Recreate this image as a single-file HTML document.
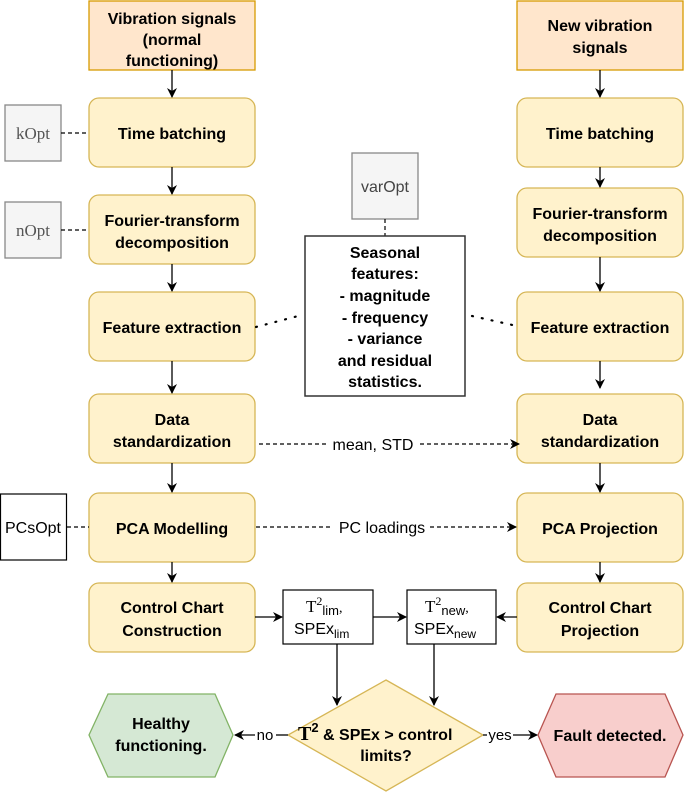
<!DOCTYPE html>
<html><head><meta charset="utf-8"><style>
html,body{margin:0;padding:0;background:#fff}
svg{display:block}
text{font-family:"Liberation Sans",Arial,sans-serif;fill:#000}
.b{font-weight:bold;font-size:16px}
.y{fill:#fff2cc;stroke:#d6b656;stroke-width:1.3}
.o{fill:#ffe6cc;stroke:#d79b00;stroke-width:1.3}
.g{fill:#f5f5f5;stroke:#888;stroke-width:1.3}
.w{fill:#fff;stroke:#333;stroke-width:1.5}
.l{stroke:#000;stroke-width:1.3;fill:none}
.d{stroke:#000;stroke-width:1.2;fill:none;stroke-dasharray:4 3}
.p{stroke:#000;stroke-width:2.2;fill:none;stroke-dasharray:1 9;stroke-linecap:round}
.s{font-family:"Liberation Serif",serif;font-size:17px;fill:#555}
</style></head><body>
<svg width="685" height="792" viewBox="0 0 685 792">
<defs><marker id="a" markerWidth="10" markerHeight="10" refX="9" refY="5" orient="auto" markerUnits="userSpaceOnUse"><path d="M0,0 L10,5 L0,10 L3,5 z" fill="#000"/></marker></defs>

<rect class="o" x="89" y="1" width="166" height="69"/>
<text class="b" text-anchor="middle" x="172" y="24">Vibration signals</text>
<text class="b" text-anchor="middle" x="172" y="45">(normal</text>
<text class="b" text-anchor="middle" x="172" y="66">functioning)</text>

<rect class="y" x="89" y="98" width="166" height="69" rx="10"/>
<text class="b" text-anchor="middle" x="172" y="139">Time batching</text>
<rect class="y" x="89" y="195" width="166" height="69" rx="10"/>
<text class="b" text-anchor="middle" x="172" y="226">Fourier-transform</text>
<text class="b" text-anchor="middle" x="172" y="248">decomposition</text>
<rect class="y" x="89" y="292" width="166" height="69" rx="10"/>
<text class="b" text-anchor="middle" x="172" y="333">Feature extraction</text>
<rect class="y" x="89" y="394" width="166" height="69" rx="10"/>
<text class="b" text-anchor="middle" x="172" y="425">Data</text>
<text class="b" text-anchor="middle" x="172" y="447">standardization</text>
<rect class="y" x="89" y="493" width="166" height="69" rx="10"/>
<text class="b" text-anchor="middle" x="172" y="534">PCA Modelling</text>
<rect class="y" x="89" y="583" width="166" height="69" rx="10"/>
<text class="b" text-anchor="middle" x="172" y="613">Control Chart</text>
<text class="b" text-anchor="middle" x="172" y="636">Construction</text>

<line class="l" x1="172" y1="70" x2="172" y2="97" marker-end="url(#a)"/>
<line class="l" x1="172" y1="167" x2="172" y2="194" marker-end="url(#a)"/>
<line class="l" x1="172" y1="264" x2="172" y2="291" marker-end="url(#a)"/>
<line class="l" x1="172" y1="361" x2="172" y2="393" marker-end="url(#a)"/>
<line class="l" x1="172" y1="463" x2="172" y2="492" marker-end="url(#a)"/>
<line class="l" x1="172" y1="562" x2="172" y2="582" marker-end="url(#a)"/>

<rect class="g" x="5" y="105" width="56" height="56"/>
<text class="s" text-anchor="middle" x="33" y="139">kOpt</text>
<line class="d" x1="61" y1="133" x2="89" y2="133"/>
<rect class="g" x="5" y="202" width="56" height="56"/>
<text class="s" text-anchor="middle" x="33" y="236">nOpt</text>
<line class="d" x1="61" y1="230" x2="89" y2="230"/>
<rect class="g" x="352" y="153" width="66" height="66"/>
<text text-anchor="middle" x="385" y="192" style="font-size:16px;fill:#444">varOpt</text>
<line class="d" x1="385" y1="219" x2="385" y2="236"/>
<rect x="0.5" y="494" width="66" height="66" fill="#fff" stroke="#000" stroke-width="1.2"/>
<text text-anchor="middle" x="33" y="533" style="font-size:16px">PCsOpt</text>
<line class="d" x1="67" y1="527" x2="89" y2="527"/>

<rect class="w" x="305" y="236" width="160" height="160"/>
<text class="b" text-anchor="middle" x="385" y="258">Seasonal</text>
<text class="b" text-anchor="middle" x="385" y="279">features:</text>
<text class="b" text-anchor="middle" x="385" y="301">- magnitude</text>
<text class="b" text-anchor="middle" x="385" y="323">- frequency</text>
<text class="b" text-anchor="middle" x="385" y="344">- variance</text>
<text class="b" text-anchor="middle" x="385" y="366">and residual</text>
<text class="b" text-anchor="middle" x="385" y="387">statistics.</text>
<line class="p" x1="256" y1="327" x2="302" y2="315"/>
<line class="p" x1="472" y1="316" x2="517" y2="326"/>

<rect class="o" x="517" y="1" width="166" height="69"/>
<text class="b" text-anchor="middle" x="600" y="31">New vibration</text>
<text class="b" text-anchor="middle" x="600" y="53">signals</text>
<rect class="y" x="517" y="98" width="166" height="69" rx="10"/>
<text class="b" text-anchor="middle" x="600" y="139">Time batching</text>
<rect class="y" x="517" y="188" width="166" height="69" rx="10"/>
<text class="b" text-anchor="middle" x="600" y="219">Fourier-transform</text>
<text class="b" text-anchor="middle" x="600" y="241">decomposition</text>
<rect class="y" x="517" y="292" width="166" height="69" rx="10"/>
<text class="b" text-anchor="middle" x="600" y="333">Feature extraction</text>
<rect class="y" x="517" y="394" width="166" height="69" rx="10"/>
<text class="b" text-anchor="middle" x="600" y="425">Data</text>
<text class="b" text-anchor="middle" x="600" y="447">standardization</text>
<rect class="y" x="517" y="493" width="166" height="69" rx="10"/>
<text class="b" text-anchor="middle" x="600" y="534">PCA Projection</text>
<rect class="y" x="517" y="583" width="166" height="69" rx="10"/>
<text class="b" text-anchor="middle" x="600" y="613">Control Chart</text>
<text class="b" text-anchor="middle" x="600" y="636">Projection</text>

<line class="l" x1="600" y1="70" x2="600" y2="97" marker-end="url(#a)"/>
<line class="l" x1="600" y1="167" x2="600" y2="187" marker-end="url(#a)"/>
<line class="l" x1="600" y1="257" x2="600" y2="291" marker-end="url(#a)"/>
<line class="l" x1="600" y1="361" x2="600" y2="388" marker-end="url(#a)"/>
<line class="l" x1="600" y1="463" x2="600" y2="492" marker-end="url(#a)"/>
<line class="l" x1="600" y1="562" x2="600" y2="582" marker-end="url(#a)"/>

<line class="d" x1="259" y1="444" x2="328" y2="444"/>
<text text-anchor="middle" x="373" y="450" style="font-size:16px">mean, STD</text>
<line class="d" x1="420" y1="444" x2="519" y2="444" marker-end="url(#a)"/>
<line class="d" x1="256" y1="527" x2="332" y2="527"/>
<text text-anchor="middle" x="382" y="533" style="font-size:16px">PC loadings</text>
<line class="d" x1="430" y1="527" x2="516" y2="527" marker-end="url(#a)"/>

<rect x="283" y="590" width="90" height="54" fill="#fff" stroke="#000" stroke-width="1.2"/>
<text x="306" y="612" style="font-family:'Liberation Serif',serif;font-size:17px">T<tspan dy="-7" font-size="12">2</tspan><tspan dy="10" font-family="Liberation Sans" font-size="13">lim</tspan><tspan dy="-3" font-size="14">,</tspan></text>
<text x="294" y="634" style="font-size:16px">SPEx<tspan dy="4" font-size="12">lim</tspan></text>
<rect x="407" y="590" width="89" height="54" fill="#fff" stroke="#000" stroke-width="1.2"/>
<text x="425" y="612" style="font-family:'Liberation Serif',serif;font-size:17px">T<tspan dy="-7" font-size="12">2</tspan><tspan dy="10" font-family="Liberation Sans" font-size="13">new</tspan><tspan dy="-3" font-size="14">,</tspan></text>
<text x="414" y="634" style="font-size:16px">SPEx<tspan dy="4" font-size="12">new</tspan></text>
<line class="l" x1="255" y1="617" x2="282" y2="617" marker-end="url(#a)"/>
<line class="l" x1="373" y1="617" x2="406" y2="617" marker-end="url(#a)"/>
<line class="l" x1="517" y1="617" x2="497" y2="617" marker-end="url(#a)"/>
<line class="l" x1="337" y1="644" x2="337" y2="705" marker-end="url(#a)"/>
<line class="l" x1="434" y1="644" x2="434" y2="705" marker-end="url(#a)"/>

<polygon points="386,680 483,735 386,791 288,735" fill="#fff2cc" stroke="#d6b656" stroke-width="1.3"/>
<text x="298" y="740" class="b"><tspan font-family="Liberation Serif" font-size="20">T</tspan><tspan dy="-8" font-size="13">2</tspan><tspan dy="8"> &amp; SPEx &gt; control</tspan></text>
<text class="b" text-anchor="middle" x="386" y="761">limits?</text>

<polygon points="108,694 215,694 233,735 215,777 108,777 89,735" fill="#d5e8d4" stroke="#82b366" stroke-width="1.3"/>
<text class="b" text-anchor="middle" x="161" y="729">Healthy</text>
<text class="b" text-anchor="middle" x="161" y="751">functioning.</text>
<polygon points="556,694 665,694 683,735 665,777 556,777 538,735" fill="#f8cecc" stroke="#b85450" stroke-width="1.3"/>
<text class="b" text-anchor="middle" x="610" y="741">Fault detected.</text>

<line class="l" x1="288" y1="735" x2="276" y2="735"/>
<text text-anchor="middle" x="265" y="740" style="font-size:15px">no</text>
<line class="l" x1="255" y1="735" x2="235" y2="735" marker-end="url(#a)"/>
<line class="l" x1="483" y1="735" x2="487" y2="735"/>
<text text-anchor="middle" x="500" y="740" style="font-size:15px">yes</text>
<line class="l" x1="513" y1="735" x2="537" y2="735" marker-end="url(#a)"/>
</svg>
</body></html>
